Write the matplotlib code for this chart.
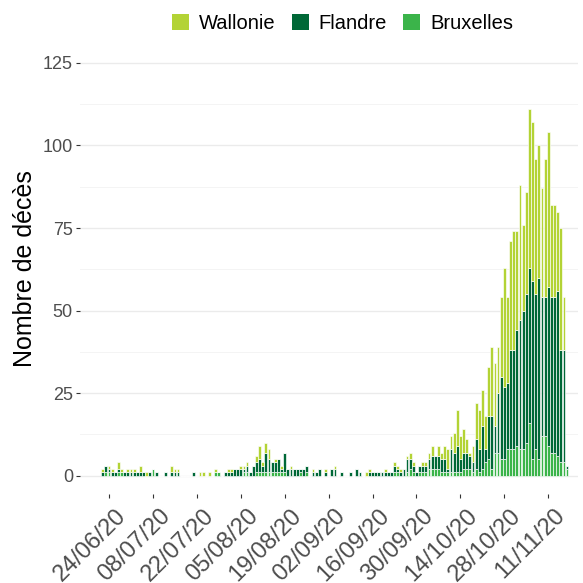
import pandas as pd
import matplotlib
matplotlib.use("Agg")
from matplotlib import pyplot as plt
import matplotlib.dates as mdates
from matplotlib.patches import Patch
from matplotlib.transforms import ScaledTranslation

plt.rcParams['font.family'] = ['Liberation Sans', 'DejaVu Sans']

# daily deaths per region, from 22/06/2020 to 17/11/2020 (one row = one week)
start = "2020-06-22"
wallonie = [1, 0, 1, 1, 0, 2, 1,
            0, 1, 1, 1, 0, 2, 0,
            1, 0, 0, 0, 0, 0, 0,
            0, 2, 1, 1, 0, 0, 0,
            0, 0, 0, 1, 1, 0, 1,
            0, 1, 0, 0, 0, 1, 1,
            0, 0, 1, 1, 1, 0, 0,
            2, 4, 1, 3, 3, 0, 1,
            0, 1, 0, 0, 1, 0, 0,
            0, 0, 0, 0, 1, 0, 0,
            0, 1, 0, 0, 1, 0, 0,
            0, 0, 0, 0, 0, 0, 0,
            1, 1, 0, 0, 0, 0, 1,
            0, 0, 1, 1, 1, 0, 1,
            2, 1, 0, 0, 1, 1, 2,
            3, 0, 3, 2, 4, 6, 4,
            6, 11, 7, 7, 4, 1, 5,
            11, 12, 11, 10, 15, 21, 19,
            14, 24, 36, 26, 33, 36, 30,
            41, 26, 31, 48, 48, 41, 40,
            33, 42, 47, 28, 28, 24, 37,
            16, 0]
flandre = [1, 2, 1, 1, 1, 1, 0,
           1, 1, 1, 1, 1, 1, 1,
           0, 1, 0, 1, 0, 0, 1,
           0, 1, 1, 1, 0, 0, 0,
           0, 1, 0, 0, 0, 0, 0,
           0, 0, 0, 0, 1, 1, 1,
           2, 2, 2, 1, 2, 1, 3,
           3, 4, 2, 6, 4, 3, 3,
           4, 1, 6, 2, 2, 2, 2,
           1, 2, 2, 0, 1, 1, 2,
           0, 1, 0, 2, 2, 0, 1,
           0, 0, 1, 0, 2, 1, 0,
           0, 1, 1, 1, 1, 1, 1,
           1, 1, 2, 1, 1, 2, 4,
           3, 2, 1, 2, 2, 2, 3,
           4, 4, 4, 4, 4, 1, 7,
           6, 8, 4, 5, 5, 4, 3,
           9, 7, 13, 4, 13, 16, 8,
           18, 25, 22, 20, 30, 30, 35,
           39, 42, 45, 47, 54, 47, 55,
           42, 42, 48, 47, 47, 50, 34,
           34, 1]
bruxelles = [0, 1, 1, 0, 0, 1, 1,
             0, 0, 0, 0, 0, 0, 0,
             0, 0, 2, 0, 0, 0, 0,
             0, 0, 0, 0, 0, 0, 0,
             0, 0, 0, 0, 0, 0, 0,
             0, 1, 1, 0, 0, 0, 0,
             0, 0, 0, 1, 1, 0, 0,
             1, 1, 1, 1, 1, 1, 1,
             1, 1, 1, 0, 0, 0, 0,
             1, 0, 1, 0, 0, 0, 0,
             0, 0, 0, 0, 0, 0, 0,
             0, 0, 0, 0, 0, 0, 0,
             0, 0, 0, 0, 0, 0, 0,
             0, 0, 1, 1, 0, 0, 1,
             2, 1, 0, 1, 1, 1, 2,
             2, 2, 2, 1, 1, 1, 1,
             1, 1, 1, 2, 2, 2, 1,
             2, 1, 2, 4, 5, 2, 7,
             7, 5, 5, 8, 8, 8, 9,
             8, 8, 10, 16, 5, 8, 5,
             12, 12, 9, 7, 7, 6, 4,
             4, 2]

regions = ["Wallonie", "Flandre", "Bruxelles"]
colors = {"Wallonie": "#b3d335", "Flandre": "#006837", "Bruxelles": "#3bb44a"}

df = pd.DataFrame({"Wallonie": wallonie, "Flandre": flandre,
                   "Bruxelles": bruxelles},
                  index=pd.date_range(start, periods=len(wallonie)))

fig = plt.figure(figsize=(5.83, 5.83), dpi=100)
ax = fig.add_axes([0.137, 0.153, 0.854, 0.773])

# stacked bars, Bruxelles at the bottom
bottom = [0] * len(df)
for reg in ["Bruxelles", "Flandre", "Wallonie"]:
    ax.bar(df.index, df[reg], bottom=bottom, width=0.9, color=colors[reg],
           edgecolor="white", linewidth=0.45, zorder=3)
    bottom = [b + v for b, v in zip(bottom, df[reg])]

# axes, grid
ref = pd.Timestamp("2020-06-24")
ax.set_xlim(ref - pd.Timedelta(days=9.3), ref + pd.Timedelta(days=149.4))
ax.set_ylim(-5.5, 131)
ax.set_yticks([0, 25, 50, 75, 100, 125])
ax.set_yticks([12.5, 37.5, 62.5, 87.5, 112.5], minor=True)
ax.set_xticks(pd.date_range("2020-06-24", "2020-11-11", freq="14D"))
ax.xaxis.set_major_formatter(mdates.DateFormatter("%d/%m/%y"))
ax.xaxis.set_minor_locator(matplotlib.ticker.NullLocator())

ax.grid(axis="y", which="major", color="#ebebeb", linewidth=1.0, zorder=0)
ax.grid(axis="y", which="minor", color="#f2f2f2", linewidth=0.6, zorder=0)
for s in ax.spines.values():
    s.set_visible(False)

ax.tick_params(axis="y", which="major", labelsize=13, labelcolor="#4d4d4d",
               color="#333333", length=3, width=0.8, pad=2)
ax.tick_params(axis="y", which="minor", length=0)
ax.tick_params(axis="x", labelsize=17, labelcolor="#4d4d4d",
               color="#333333", length=3, width=0.8, pad=2)
# rotated date labels, nudged right/down like the original
shift = ScaledTranslation(0.06, -0.04, fig.dpi_scale_trans)
for lab in ax.get_xticklabels():
    lab.set_rotation(45)
    lab.set_ha("right")
    lab.set_rotation_mode("anchor")
    lab.set_transform(lab.get_transform() + shift)

ax.set_ylabel("Nombre de décès", fontsize=18, labelpad=4)

# legend at the top
handles = [Patch(facecolor=colors[r], edgecolor="none", label=r)
           for r in regions]
fig.legend(handles=handles, loc="center", bbox_to_anchor=(0.5875, 0.9605),
           ncol=3, frameon=False, fontsize=14.5, handlelength=0.85,
           handleheight=0.85, handletextpad=0.5, columnspacing=0.8)

fig.savefig("out.png", dpi=100)
